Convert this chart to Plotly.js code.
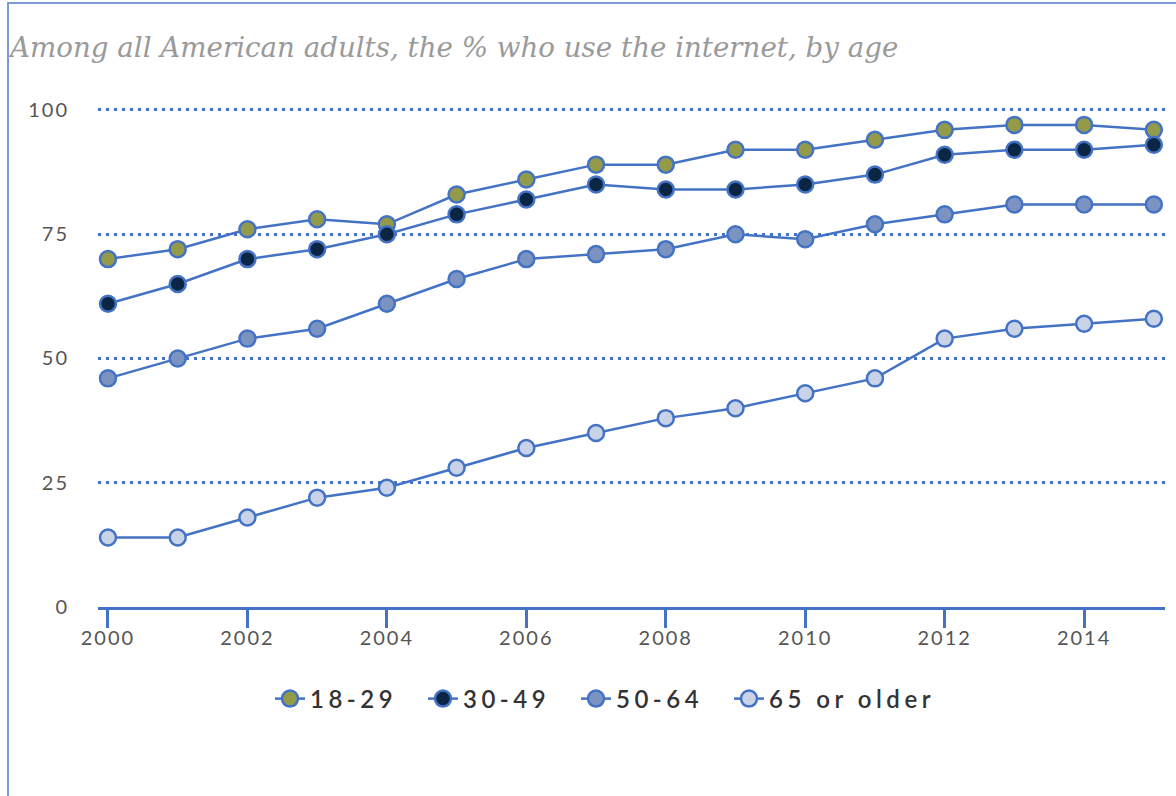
<!DOCTYPE html>
<html>
<head>
<meta charset="utf-8">
<script src="https://cdn.plot.ly/plotly-3.0.1.min.js"></script>
<style>
  html, body { margin: 0; padding: 0; background: #fff; }
  #wrap { position: relative; width: 1176px; height: 796px; overflow: hidden; }
  #frame { position: absolute; left: 7px; top: 2px; width: 1200px; height: 820px;
           border-left: 2px solid #7d9ad8; border-top: 2px solid #7d9ad8; pointer-events: none; z-index: 5; }
  #chart { width: 1176px; height: 796px; }
  .legendtext { letter-spacing: 4.5px; }
  .legend .scrollbox { clip-path: none !important; }
  .xtick text, .ytick text { letter-spacing: 2px; }
</style>
</head>
<body>
<div id="wrap">
  <div id="chart"></div>
  <div id="frame"></div>
</div>
<script>
const years = [2000,2001,2002,2003,2004,2005,2006,2007,2008,2009,2010,2011,2012,2013,2014,2015];
const age18_29 = [70,72,76,78,77,83,86,89,89,92,92,94,96,97,97,96];
const age30_49 = [61,65,70,72,75,79,82,85,84,84,85,87,91,92,92,93];
const age50_64 = [46,50,54,56,61,66,70,71,72,75,74,77,79,81,81,81];
const age65plus = [14,14,18,22,24,28,32,35,38,40,43,46,54,56,57,58];
const seriesNames = ['18-29','30-49','50-64','65 or older'];
const markerColors = ['#939b48','#0b2545','#7b93c0','#c9d3e8'];
const yTicks = [0,25,50,75,100];
const xTicks = [2000,2002,2004,2006,2008,2010,2012,2014];

const lineBlue = '#4472c4';
const allSeries = [age18_29, age30_49, age50_64, age65plus];
const traces = allSeries.map((vals, i) => ({
  type: 'scatter',
  mode: 'lines+markers',
  name: seriesNames[i],
  x: years,
  y: vals,
  line: { color: lineBlue, width: 2.5 },
  marker: { size: 16, color: markerColors[i], line: { color: lineBlue, width: 2.5 } },
  cliponaxis: false,
  hoverinfo: 'x+y+name'
}));

const layout = {
  width: 1176,
  height: 796,
  paper_bgcolor: '#ffffff',
  plot_bgcolor: '#ffffff',
  margin: { l: 98, r: 11, t: 107, b: 189 },
  showlegend: true,
  title: {
    text: 'Among all American adults, the % who use the internet, by age',
    font: { family: 'DejaVu Serif', size: 27.7, color: '#9a9a9a', style: 'italic' },
    xref: 'container', yref: 'container',
    x: 10/1176, xanchor: 'left',
    y: 1 - 47/796, yanchor: 'middle'
  },
  xaxis: {
    range: [1999.857, 2015.16],
    tickmode: 'array',
    tickvals: xTicks,
    ticktext: xTicks.map(String),
    showgrid: false,
    zeroline: false,
    showline: true,
    linecolor: lineBlue,
    linewidth: 3,
    ticks: 'outside',
    ticklen: 18,
    tickwidth: 3,
    tickcolor: lineBlue,
    ticklabelstandoff: -7,
    tickfont: { family: 'Lato, Open Sans, sans-serif', size: 20, color: '#555555' },
    fixedrange: true
  },
  yaxis: {
    range: [0, 100.6],
    tickmode: 'array',
    tickvals: yTicks,
    ticktext: yTicks.map(String),
    showgrid: true,
    gridcolor: lineBlue,
    gridwidth: 2.5,
    griddash: '2.5px,5.5px',
    zeroline: false,
    showline: false,
    ticks: '',
    ticklabelstandoff: 28,
    tickfont: { family: 'Lato, Open Sans, sans-serif', size: 20, color: '#555555' },
    fixedrange: true
  },
  legend: {
    orientation: 'h',
    xref: 'container', yref: 'container',
    x: 270/1176, xanchor: 'left',
    y: (796 - 699)/796, yanchor: 'middle',
    entrywidth: 108,
    font: { family: 'Lato, Open Sans, sans-serif', size: 24, color: '#333333', weight: 600 },
    bgcolor: 'rgba(0,0,0,0)'
  }
};

Plotly.newPlot('chart', traces, layout, { displayModeBar: false });
</script>
</body>
</html>
